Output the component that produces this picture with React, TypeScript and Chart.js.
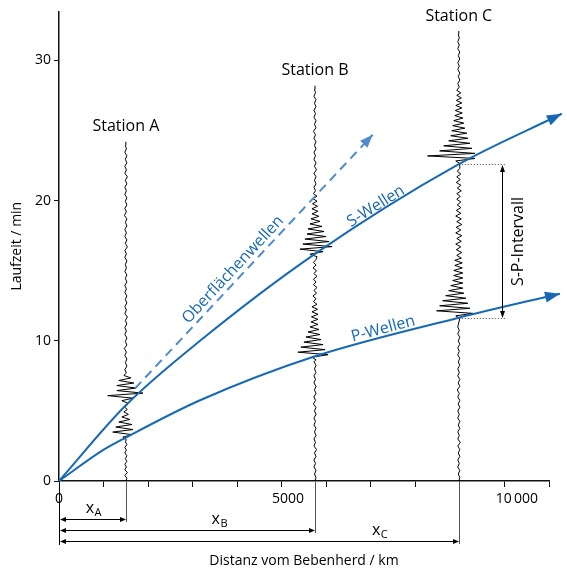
import React, { useEffect, useRef } from 'react';
import { Chart, registerables } from 'chart.js';

Chart.register(...registerables);

const FONT = '"Open Sans", "DejaVu Sans", sans-serif';
const BLUE = '#1769b3';
const BLUE_LIGHT = '#4f8bcc';

// ---------- data ----------
// Travel-time curves (distance km, time min)
const pDist = [0, 960, 1460, 3080, 5590, 8730, 10940];
const pTime = [0, 2.2, 3.1, 5.76, 8.9, 11.65, 13.36];
const sDist = [0, 1460, 3080, 5590, 8730, 10980];
const sTime = [0, 5.4, 10.0, 16.2, 22.6, 26.2];
const surfDist = [1660, 6850];
const surfTime = [6.6, 24.7];

// Stations
const stationNames = ['Station A', 'Station B', 'Station C'];
const stationDist = [1460, 5590, 8730];
const stationSub = ['A', 'B', 'C'];
const distLabelAt = [750, 3500, 7000];
const pArrivalC = 11.65;
const sArrivalC = 22.6;
const spBracketDist = 9680;

// Axis tick labels
const xLabelValues = [0, 5000, 10000];
const xLabelTexts = ['0', '5000', '10\u2009000'];

// Seismogram traces: segments of (start time, time step, lateral deflection in km)
type Seg = { t0: number; dt: number; dx: number[] };
const traceA: Seg[] = [
  { t0: 0, dt: 0.2, dx: [0, 22, -22, 33, -22, 11, -22, 22, -11, 22, -22, 11, -22, 22, -11] },
  { t0: 2.95, dt: 0.18, dx: [11, -66, 132, -286, 154, -220, 132, -154, 88, -88, 55, -44] },
  { t0: 5.1, dt: 0.15, dx: [33, -22, 22] },
  { t0: 5.55, dt: 0.18, dx: [44, -88, 154, -396, 374, -198, 220, -198, 176, -154, 110, -44] },
  { t0: 7.7, dt: 0.25, dx: [
    11, -22, 22, -11, 22, -22, 11, -33, 22, -11,
    22, -22, 11, -22, 22, -11, 33, -22, 11, -22,
    22, -11, 22, -22, 11, -22, 22, -11, 22, -22,
    11, -11, 22, -22, 11, -22, 33, -11, 22, -22,
    11, -22, 22, -11, 22, -33, 11, -22, 22, -11,
    22, -22, 11, -22, 22, -11, 33, -22, 11, -22,
    22, -11, 22, -22, 11, -11, 0] },
];
const traceB: Seg[] = [
  { t0: 0, dt: 0.25, dx: [
    0, 22, -11, 22, -22, 11, -22, 22, -11, 33,
    -22, 11, -22, 22, -11, 22, -22, 11, -22, 22,
    -11, 22, -33, 11, -22, 22, -11, 22, -22, 11,
    -22, 22, -11, 22, -22] },
  { t0: 8.65, dt: 0.18, dx: [22, -66, 286, -374, 220, -308, 176, -242, 132, -198, 110, -154, 88, -110, 66, -88, 66, -77, 66, -66, 55, -66] },
  { t0: 12.6, dt: 0.2, dx: [44, -33, 22, -44, 33, -22, 44, -33, 22, -33, 44, -22, 33, -44, 22, -33, 22] },
  { t0: 16.0, dt: 0.18, dx: [44, -110, 176, -330, 374, -264, 308, -220, 242, -176, 198, -154, 154, -110, 110, -88, 88, -66, 66, -66, 55, -55, 44, -44, 44, -33] },
  { t0: 20.7, dt: 0.25, dx: [
    11, -22, 22, -11, 22, -22, 33, -11, 22, -22,
    11, -22, 22, -11, 22, -22, 11, -33, 22, -11,
    22, -22, 11, -22, 22, -11, 22, -22, 11, -11,
    0] },
];
const traceC: Seg[] = [
  { t0: 0, dt: 0.25, dx: [
    0, 22, -11, 22, -22, 11, -22, 22, -11, 22,
    -22, 33, -22, 11, -22, 22, -11, 22, -22, 11,
    -22, 22, -11, 22, -22, 11, -33, 22, -11, 22,
    -22, 11, -22, 22, -11, 22, -22, 11, -22, 22,
    -11, 22, -22, 11, -22] },
  { t0: 11.6, dt: 0.18, dx: [22, -66, 308, -484, 242, -418, 198, -352, 154, -286, 110, -220, 88, -176, 88, -132, 88, -110, 88, -110, 77, -88, 77, -88] },
  { t0: 15.9, dt: 0.2, dx: [55, -44, 66, -55, 44, -66, 55, -44, 66, -66, 44, -55, 66, -44, 55, -66, 44, -55, 44, -33, 44, -44, 33, -44, 55, -33, 44, -55, 33, -44, 44, -33, 22] },
  { t0: 22.65, dt: 0.18, dx: [22, -66, 352, -682, 352, -418, 286, -330, 242, -220, 198, -176, 176, -154, 132, -132, 110, -110, 88, -88, 77, -77, 66, -66, 66, -55, 55, -44, 44, -44] },
  { t0: 28.1, dt: 0.25, dx: [11, -22, 22, -11, 22, -22, 11, -22, 22, -11, 22, -22, 11, -22, 11, -11, 0] },
];
const traces = [traceA, traceB, traceC];

// Wave labels: text, anchor (km, min), rotation in degrees
const waveLabels = [
  { text: 'Oberflächenwellen', x: 3800, y: 15.07, angle: -47 },
  { text: 'S-Wellen', x: 6920, y: 19.6, angle: -32 },
  { text: 'P-Wellen', x: 7080, y: 10.85, angle: -15 },
];

// ---------- helpers ----------
function buildTrace(dist: number, segs: Seg[]) {
  const pts: { x: number; y: number }[] = [];
  segs.forEach((s) =>
    s.dx.forEach((d, i) => pts.push({ x: dist + d, y: +(s.t0 + i * s.dt).toFixed(3) }))
  );
  return pts;
}

function arrowHead(ctx: CanvasRenderingContext2D, tipX: number, tipY: number, fromX: number, fromY: number, len: number, half: number, color: string) {
  const a = Math.atan2(tipY - fromY, tipX - fromX);
  ctx.save();
  ctx.translate(tipX, tipY);
  ctx.rotate(a);
  ctx.beginPath();
  ctx.moveTo(0, 0);
  ctx.lineTo(-len, half);
  ctx.lineTo(-len, -half);
  ctx.closePath();
  ctx.fillStyle = color;
  ctx.fill();
  ctx.restore();
}

function hArrow(ctx: CanvasRenderingContext2D, x1: number, x2: number, y: number) {
  ctx.beginPath();
  ctx.moveTo(x1 + 2, y);
  ctx.lineTo(x2 - 2, y);
  ctx.stroke();
  arrowHead(ctx, x1, y, x2, y, 6, 2.5, '#000');
  arrowHead(ctx, x2, y, x1, y, 6, 2.5, '#000');
}

const annotPlugin = {
  id: 'annot',
  afterDatasetsDraw(chart: any) {
    const { ctx, chartArea, scales } = chart;
    const xs = scales.x;
    const ys = scales.y;
    ctx.save();

    // arrow heads on curves
    chart.data.datasets.forEach((ds: any, i: number) => {
      if (!ds.arrowHead) return;
      const pts = chart.getDatasetMeta(i).data;
      const last = pts[pts.length - 1];
      const prev = pts[pts.length - 2];
      const useCp = last.cp1x !== undefined && last.cp1x !== last.x;
      const fx = useCp ? last.cp1x : prev.x;
      const fy = useCp ? last.cp1y : prev.y;
      arrowHead(ctx, last.x, last.y, fx, fy, ds.arrowHead.len, ds.arrowHead.half, ds.borderColor);
    });

    const b = chartArea.bottom;

    // x tick labels
    ctx.fillStyle = '#000';
    ctx.font = `14px ${FONT}`;
    ctx.textAlign = 'center';
    ctx.textBaseline = 'alphabetic';
    xLabelValues.forEach((v, i) => {
      ctx.fillText(xLabelTexts[i], xs.getPixelForValue(v), b + 22);
    });

    // station labels
    ctx.font = `16px ${FONT}`;
    ctx.textBaseline = 'middle';
    stationNames.forEach((name, i) => {
      const tr = traces[i];
      const lastSeg = tr[tr.length - 1];
      const top = lastSeg.t0 + (lastSeg.dx.length - 1) * lastSeg.dt;
      ctx.fillText(name, xs.getPixelForValue(stationDist[i]), ys.getPixelForValue(top) - 15);
    });

    // wave labels
    waveLabels.forEach((l) => {
      ctx.save();
      ctx.translate(xs.getPixelForValue(l.x), ys.getPixelForValue(l.y));
      ctx.rotate((l.angle * Math.PI) / 180);
      ctx.fillStyle = BLUE;
      ctx.font = `16px ${FONT}`;
      ctx.textAlign = 'center';
      ctx.textBaseline = 'middle';
      ctx.fillText(l.text, 0, 0);
      ctx.restore();
    });

    // distance markers under the axis
    const x0 = xs.getPixelForValue(0);
    ctx.strokeStyle = '#000';
    ctx.lineWidth = 1;
    ctx.beginPath();
    ctx.moveTo(Math.round(x0) + 0.5, b + 6);
    ctx.lineTo(Math.round(x0) + 0.5, b + 64);
    ctx.stroke();
    const arrowOff = [38, 49, 60];
    stationDist.forEach((d, i) => {
      const px = Math.round(xs.getPixelForValue(d)) + 0.5;
      ctx.strokeStyle = '#555';
      ctx.beginPath();
      ctx.moveTo(px, b + 1);
      ctx.lineTo(px, b + arrowOff[i] + 3);
      ctx.stroke();
      ctx.strokeStyle = '#000';
      const ay = b + arrowOff[i] + 0.5;
      hArrow(ctx, x0 + 1, px - 0.5, ay);
      const cx = xs.getPixelForValue(distLabelAt[i]);
      ctx.font = `16px ${FONT}`;
      const w1 = ctx.measureText('x').width;
      ctx.font = `11px ${FONT}`;
      const w2 = ctx.measureText(stationSub[i]).width;
      const left = cx - (w1 + w2) / 2;
      ctx.fillStyle = '#000';
      ctx.textAlign = 'left';
      ctx.textBaseline = 'alphabetic';
      ctx.font = `16px ${FONT}`;
      ctx.fillText('x', left, ay - 7);
      ctx.font = `11px ${FONT}`;
      ctx.fillText(stationSub[i], left + w1 + 0.5, ay - 4);
    });

    // S-P interval bracket
    const cX = xs.getPixelForValue(stationDist[2]);
    const bX = Math.round(xs.getPixelForValue(spBracketDist)) + 0.5;
    const yS = Math.round(ys.getPixelForValue(sArrivalC)) + 0.5;
    const yP = Math.round(ys.getPixelForValue(pArrivalC)) + 0.5;
    ctx.save();
    ctx.strokeStyle = '#444';
    ctx.lineWidth = 1;
    ctx.setLineDash([1, 2]);
    ctx.beginPath();
    ctx.moveTo(cX, yS);
    ctx.lineTo(bX + 3, yS);
    ctx.moveTo(cX, yP);
    ctx.lineTo(bX + 3, yP);
    ctx.stroke();
    ctx.restore();
    ctx.strokeStyle = '#000';
    ctx.lineWidth = 1;
    ctx.beginPath();
    ctx.moveTo(bX, yS + 3);
    ctx.lineTo(bX, yP - 3);
    ctx.stroke();
    arrowHead(ctx, bX, yS + 0.5, bX, yP, 7, 2.5, '#000');
    arrowHead(ctx, bX, yP - 0.5, bX, yS, 7, 2.5, '#000');
    ctx.save();
    ctx.translate(bX + 16, (yS + yP) / 2);
    ctx.rotate(-Math.PI / 2);
    ctx.fillStyle = '#000';
    ctx.font = `16px ${FONT}`;
    ctx.textAlign = 'center';
    ctx.textBaseline = 'middle';
    ctx.fillText('S-P-Intervall', 0, 0);
    ctx.restore();

    ctx.restore();
  },
};

export default function App() {
  const ref = useRef<HTMLCanvasElement>(null);
  useEffect(() => {
    document.body.style.margin = '0';
    Chart.defaults.font.family = FONT;
    Chart.defaults.color = '#000';
    const datasets: any[] = [
      {
        label: 'P-Wellen',
        data: pDist.map((d, i) => ({ x: d, y: pTime[i] })),
        borderColor: BLUE,
        borderWidth: 2,
        pointRadius: 0,
        cubicInterpolationMode: 'monotone',
        clip: false,
        arrowHead: { len: 15, half: 5.5 },
      },
      {
        label: 'S-Wellen',
        data: sDist.map((d, i) => ({ x: d, y: sTime[i] })),
        borderColor: BLUE,
        borderWidth: 2,
        pointRadius: 0,
        cubicInterpolationMode: 'monotone',
        clip: false,
        arrowHead: { len: 15, half: 5.5 },
      },
      {
        label: 'Oberflächenwellen',
        data: surfDist.map((d, i) => ({ x: d, y: surfTime[i] })),
        borderColor: BLUE_LIGHT,
        borderWidth: 2,
        borderDash: [9, 6],
        pointRadius: 0,
        tension: 0,
        clip: false,
        arrowHead: { len: 13, half: 5 },
      },
      ...traces.map((tr, i) => ({
        label: stationNames[i],
        data: buildTrace(stationDist[i], tr),
        borderColor: '#000',
        borderWidth: 1,
        pointRadius: 0,
        tension: 0,
        clip: false,
      })),
    ];
    const chart = new Chart(ref.current as HTMLCanvasElement, {
      type: 'line',
      data: { datasets },
      options: {
        animation: false,
        responsive: false,
        devicePixelRatio: 1,
        events: [],
        layout: { padding: { top: 9, right: 18, left: 0, bottom: 0 } },
        plugins: { legend: { display: false }, tooltip: { enabled: false } },
        scales: {
          x: {
            type: 'linear',
            min: 0,
            max: 10700,
            afterFit: (s: any) => { s.height = 89; },
            border: { display: true, color: '#111', width: 1.5 },
            grid: { display: true, drawOnChartArea: false, drawTicks: true, tickLength: 6, color: '#111', lineWidth: 1 },
            ticks: {
              stepSize: 1000,
              includeBounds: false,
              autoSkip: false,
              maxRotation: 0,
              font: { size: 14, family: FONT },
              callback: () => '',
            },
            title: {
              display: true,
              text: 'Distanz vom Bebenherd / km',
              color: '#000',
              font: { size: 14, family: FONT },
              padding: { top: 0, bottom: 1 },
            },
          },
          y: {
            type: 'linear',
            min: 0,
            max: 33.5,
            afterFit: (s: any) => { s.width = 59; },
            border: { display: true, color: '#111', width: 1.5 },
            grid: { display: true, drawOnChartArea: false, drawTicks: true, tickLength: 5, color: '#111', lineWidth: 1 },
            ticks: {
              stepSize: 10,
              includeBounds: false,
              padding: 3,
              color: '#000',
              font: { size: 14, family: FONT },
            },
            title: {
              display: true,
              text: 'Laufzeit / min',
              color: '#000',
              font: { size: 14, family: FONT },
              padding: { top: 9, bottom: 0 },
            },
          },
        },
      } as any,
      plugins: [annotPlugin],
    });
    return () => chart.destroy();
  }, []);
  return (
    <div style={{ position: 'absolute', left: 0, top: 0, width: 567, height: 570 }}>
      <canvas ref={ref} width={567} height={570} style={{ width: 567, height: 570, display: 'block' }} />
    </div>
  );
}
